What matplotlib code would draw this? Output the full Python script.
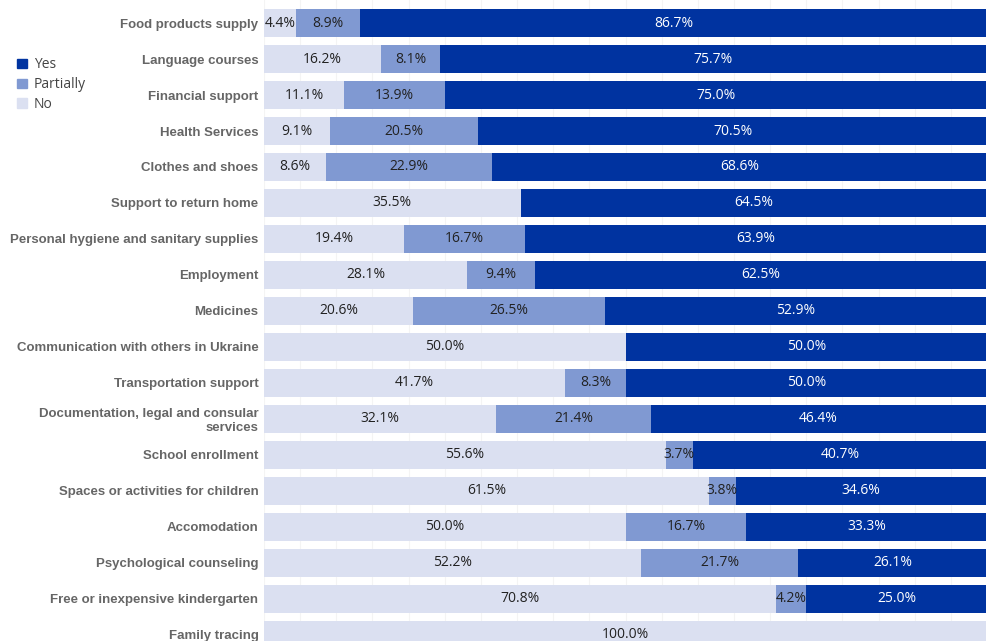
import matplotlib.pyplot as plt
from matplotlib.patches import Patch

categories = ["Food products supply", "Language courses", "Financial support", "Health Services",
              "Clothes and shoes", "Support to return home", "Personal hygiene and sanitary supplies",
              "Employment", "Medicines", "Communication with others in Ukraine", "Transportation support",
              "Documentation, legal and consular\nservices", "School enrollment",
              "Spaces or activities for children", "Accomodation", "Psychological counseling",
              "Free or inexpensive kindergarten", "Family tracing"]
no_vals = [4.4, 16.2, 11.1, 9.1, 8.6, 35.5, 19.4, 28.1, 20.6, 50.0, 41.7, 32.1, 55.6, 61.5, 50.0, 52.2, 70.8, 100.0]
partial_vals = [8.9, 8.1, 13.9, 20.5, 22.9, 0, 16.7, 9.4, 26.5, 0, 8.3, 21.4, 3.7, 3.8, 16.7, 21.7, 4.2, 0]
yes_vals = [86.7, 75.7, 75.0, 70.5, 68.6, 64.5, 63.9, 62.5, 52.9, 50.0, 50.0, 46.4, 40.7, 34.6, 33.3, 26.1, 25.0, 0]

c_yes = "#0033a0"
c_part = "#8099d2"
c_no = "#dbe0f1"

fig = plt.figure(figsize=(9.87, 6.41), dpi=100)
ax = fig.add_axes([264 / 987, 0, 1 - 264 / 987, 1])

y = list(range(len(categories)))
h = 0.76
series = [(no_vals, c_no, "#222222"), (partial_vals, c_part, "#222222"), (yes_vals, c_yes, "white")]
left = [0] * len(categories)
for vals, col, tcol in series:
    ax.barh(y, vals, left=left, height=h, color=col, zorder=2)
    for i, v in enumerate(vals):
        if v > 0:
            ax.text(left[i] + v / 2, i, f"{v:.1f}%", ha="center", va="center",
                    fontsize=10, color=tcol, family="Open Sans", zorder=3)
    left = [l + v for l, v in zip(left, vals)]

ax.set_xlim(0, 100)
ax.set_ylim(17.17, -0.64)
ax.set_xticks(range(0, 101, 5))
ax.set_xticklabels([])
ax.tick_params(length=0)
ax.grid(axis="x", color="#f4f4f4", lw=0.8, zorder=0)
ax.set_yticks(y)
ax.set_yticklabels(categories, fontsize=9.5, fontweight="bold", color="#666666", family="Liberation Sans",
                   linespacing=1.15)
ax.tick_params(axis="y", pad=4)
for s in ax.spines.values():
    s.set_visible(False)

handles = [Patch(color=c_yes, label="Yes"), Patch(color=c_part, label="Partially"), Patch(color=c_no, label="No")]
fig.legend(handles=handles, loc="upper left", bbox_to_anchor=(0.005, 0.93), frameon=False,
           handlelength=0.7, handleheight=0.7, handletextpad=0.5, labelspacing=0.35,
           prop={"family": "Open Sans", "size": 10}, labelcolor="#444444")

fig.savefig("out.png", dpi=100)
